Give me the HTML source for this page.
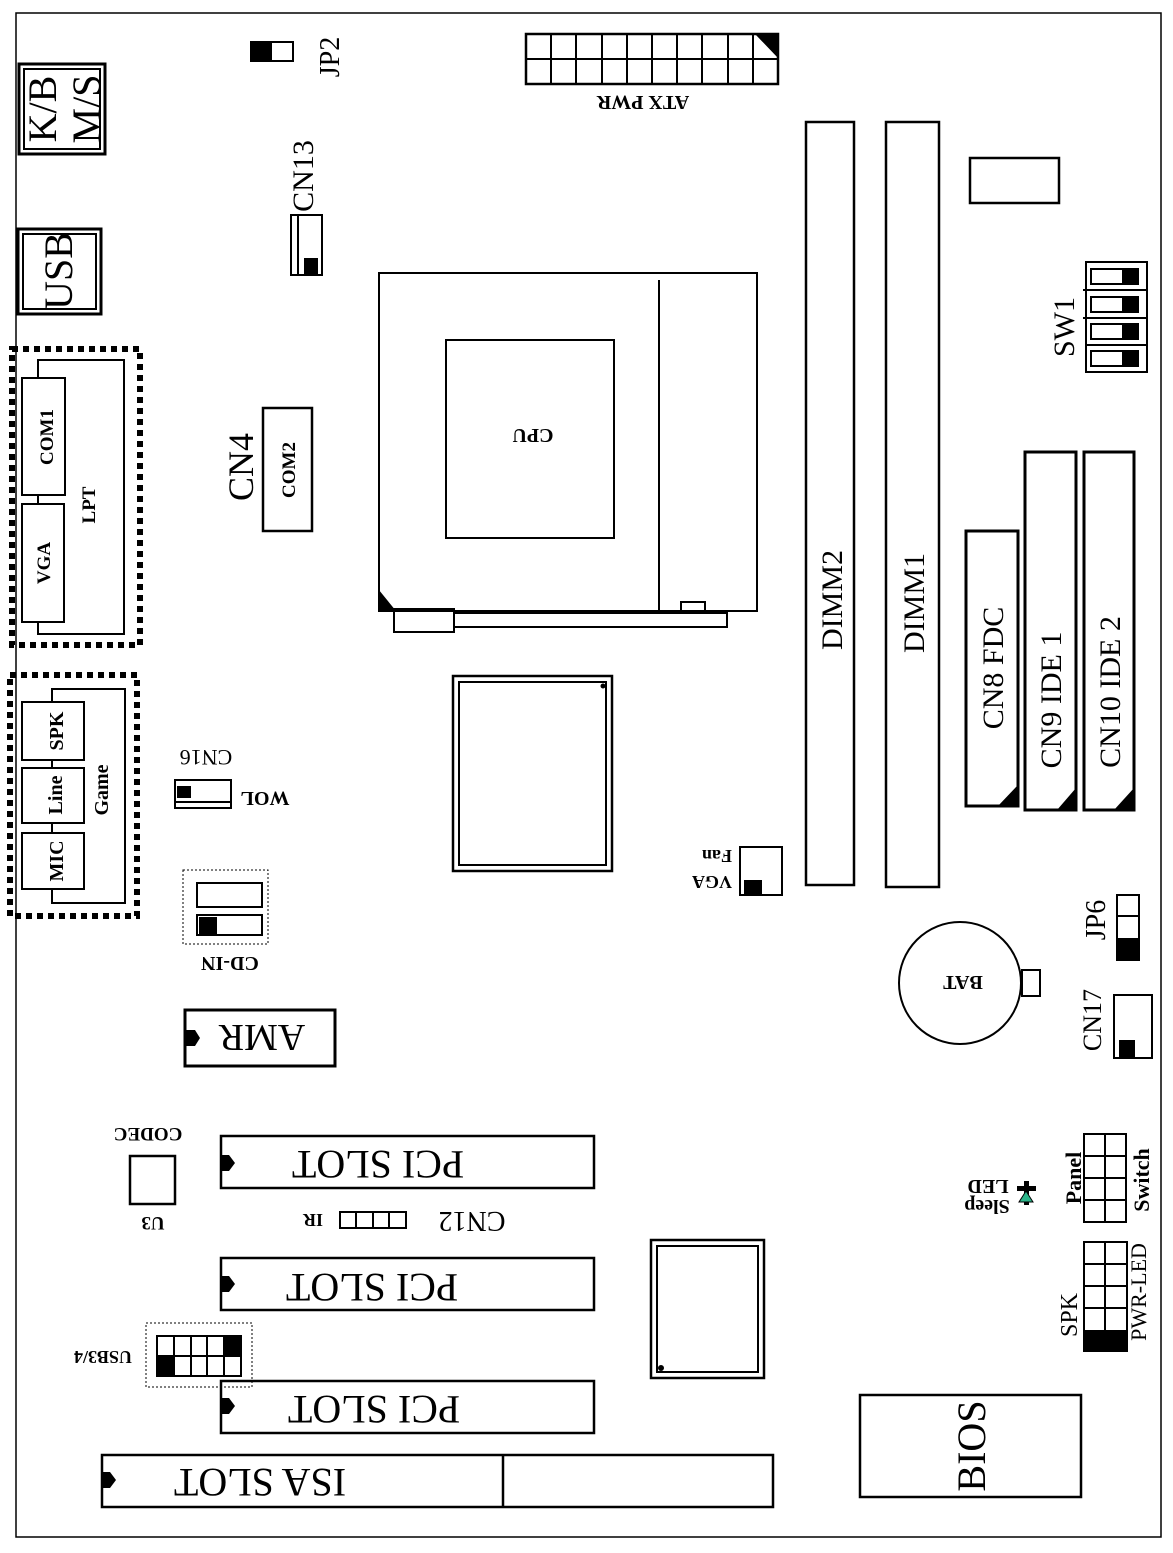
<!DOCTYPE html>
<html><head><meta charset="utf-8"><style>
html,body{margin:0;padding:0;background:#fff;}
svg{display:block;}
svg text{font-family:"Liberation Serif","Times New Roman",serif;fill:#000;}
.b{font-weight:bold;}
</style></head><body>
<svg width="1173" height="1553" viewBox="0 0 1173 1553" xmlns="http://www.w3.org/2000/svg" font-family="Liberation Serif, Times New Roman, serif">
<g fill="none" stroke="#000" stroke-width="2">
<rect x="16" y="13" width="1145" height="1524" stroke-width="1.5"/>
<rect x="19" y="64" width="86" height="90" stroke-width="3"/>
<rect x="24" y="69" width="76" height="80"/>
<rect x="18" y="229" width="83" height="85" stroke-width="3"/>
<rect x="23" y="234" width="73" height="75"/>
<rect x="12" y="349" width="128" height="296" stroke-width="6" stroke-dasharray="6,5"/>
<polyline points="38,378 38,360 124,360 124,634 38,634 38,622"/>
<rect x="22" y="378" width="43" height="117"/>
<rect x="22" y="504" width="42" height="118"/>
<line x1="38" y1="495" x2="38" y2="504"/>
<rect x="263" y="408" width="49" height="123" stroke-width="2.5"/>
<rect x="251" y="42" width="42" height="19"/>
<rect x="291" y="215" width="31" height="60"/>
<line x1="298" y1="215" x2="298" y2="275"/>
<!-- ATX -->
<rect x="526" y="34" width="252" height="50" stroke-width="2.5"/>
<line x1="526" y1="59" x2="778" y2="59"/>
<line x1="551" y1="34" x2="551" y2="84"/>
<line x1="576" y1="34" x2="576" y2="84"/>
<line x1="602" y1="34" x2="602" y2="84"/>
<line x1="627" y1="34" x2="627" y2="84"/>
<line x1="652" y1="34" x2="652" y2="84"/>
<line x1="677" y1="34" x2="677" y2="84"/>
<line x1="702" y1="34" x2="702" y2="84"/>
<line x1="728" y1="34" x2="728" y2="84"/>
<line x1="753" y1="34" x2="753" y2="84"/>
<rect x="379" y="273" width="378" height="338"/>
<line x1="659" y1="280" x2="659" y2="611"/>
<rect x="446" y="340" width="168" height="198"/>
<rect x="394" y="609" width="60" height="23"/>
<rect x="454" y="613" width="273" height="14"/>
<rect x="681" y="602" width="24" height="11"/>
<rect x="453" y="676" width="159" height="195" stroke-width="2.5"/>
<rect x="459" y="682" width="147" height="183"/>
<rect x="806" y="122" width="48" height="763" stroke-width="2.5"/>
<rect x="886" y="122" width="53" height="765" stroke-width="2.5"/>
<rect x="970" y="158" width="89" height="45" stroke-width="2.5"/>
<rect x="1086" y="262" width="61" height="110"/>
<line x1="1083" y1="290" x2="1147" y2="290"/>
<line x1="1083" y1="318" x2="1147" y2="318"/>
<line x1="1086" y1="345" x2="1147" y2="345"/>
<rect x="1091" y="269" width="47" height="15"/>
<rect x="1091" y="297" width="47" height="15"/>
<rect x="1091" y="324" width="47" height="15"/>
<rect x="1091" y="351" width="47" height="15"/>
<rect x="966" y="531" width="52" height="275" stroke-width="3"/>
<rect x="1025" y="452" width="51" height="358" stroke-width="3"/>
<rect x="1084" y="452" width="50" height="358" stroke-width="3"/>
<rect x="1117" y="895" width="22" height="65"/>
<line x1="1117" y1="916" x2="1139" y2="916"/>
<circle cx="960" cy="983" r="61"/>
<rect x="1022" y="970" width="18" height="26"/>
<rect x="1114" y="995" width="38" height="63"/>
<rect x="1084" y="1134" width="42" height="88"/>
<line x1="1105" y1="1134" x2="1105" y2="1222"/>
<line x1="1084" y1="1156" x2="1126" y2="1156"/>
<line x1="1084" y1="1178" x2="1126" y2="1178"/>
<line x1="1084" y1="1200" x2="1126" y2="1200"/>
<rect x="1084" y="1242" width="43" height="109"/>
<line x1="1105" y1="1242" x2="1105" y2="1330"/>
<line x1="1084" y1="1264" x2="1127" y2="1264"/>
<line x1="1084" y1="1286" x2="1127" y2="1286"/>
<line x1="1084" y1="1308" x2="1127" y2="1308"/>
<rect x="860" y="1395" width="221" height="102" stroke-width="2.5"/>
<rect x="651" y="1240" width="113" height="138" stroke-width="2.5"/>
<rect x="657" y="1246" width="101" height="126"/>
<rect x="221" y="1136" width="373" height="52" stroke-width="2.5"/>
<rect x="221" y="1258" width="373" height="52" stroke-width="2.5"/>
<rect x="221" y="1381" width="373" height="52" stroke-width="2.5"/>
<rect x="102" y="1455" width="671" height="52" stroke-width="2.5"/>
<line x1="503" y1="1455" x2="503" y2="1507" stroke-width="2.5"/>
<rect x="130" y="1156" width="45" height="48" stroke-width="2.5"/>
<rect x="340" y="1212" width="66" height="16"/>
<line x1="356" y1="1212" x2="356" y2="1228"/>
<line x1="373" y1="1212" x2="373" y2="1228"/>
<line x1="389" y1="1212" x2="389" y2="1228"/>
<rect x="146" y="1323" width="106" height="64" stroke-width="1" stroke-dasharray="2,2"/>
<rect x="157" y="1336" width="84" height="40"/>
<line x1="157" y1="1356" x2="241" y2="1356"/>
<line x1="174" y1="1336" x2="174" y2="1376"/>
<line x1="191" y1="1336" x2="191" y2="1376"/>
<line x1="207" y1="1336" x2="207" y2="1376"/>
<line x1="224" y1="1336" x2="224" y2="1376"/>
<rect x="185" y="1010" width="150" height="56" stroke-width="3"/>
<rect x="183" y="870" width="85" height="74" stroke-width="1" stroke-dasharray="2,2"/>
<rect x="197" y="883" width="65" height="24"/>
<rect x="197" y="915" width="65" height="20"/>
<rect x="175" y="780" width="56" height="28"/>
<line x1="175" y1="802" x2="231" y2="802"/>
<rect x="740" y="847" width="42" height="48"/>
<rect x="10" y="675" width="127" height="241" stroke-width="6" stroke-dasharray="6,5"/>
<polyline points="52,702 52,689 125,689 125,903 52,903 52,889"/>
<rect x="22" y="702" width="62" height="58"/>
<rect x="22" y="768" width="62" height="55"/>
<rect x="22" y="833" width="62" height="56"/>
<line x1="52" y1="760" x2="52" y2="768"/>
<line x1="52" y1="823" x2="52" y2="833"/>
</g>
<g fill="#000">
<rect x="251" y="42" width="21" height="19"/>
<rect x="304" y="258" width="14" height="16"/>
<polygon points="755,34 778,34 778,58"/>
<polygon points="379,590 379,611 396,611"/>
<rect x="1122" y="269" width="16" height="15"/>
<rect x="1122" y="297" width="16" height="15"/>
<rect x="1122" y="324" width="16" height="15"/>
<rect x="1122" y="351" width="16" height="15"/>
<polygon points="1018,785 1018,806 998,806"/>
<polygon points="1076,788 1076,810 1057,810"/>
<polygon points="1134,788 1134,810 1114,810"/>
<rect x="1117" y="938" width="22" height="22"/>
<rect x="1119" y="1040" width="16" height="18"/>
<rect x="1084" y="1330" width="43" height="21"/>
<rect x="224" y="1336" width="17" height="20"/>
<rect x="157" y="1356" width="17" height="20"/>
<rect x="177" y="786" width="14" height="12"/>
<rect x="199" y="917" width="18" height="17"/>
<rect x="744" y="880" width="18" height="15"/>
<circle cx="603" cy="686" r="2.5"/>
<circle cx="661" cy="1368" r="3"/>
<path d="M185,1030 h10 l5,8 l-5,8 h-10z"/>
<path d="M221,1155 h8 l6,8 l-6,8 h-8z"/>
<path d="M221,1276 h8 l6,8 l-6,8 h-8z"/>
<path d="M221,1398 h8 l6,8 l-6,8 h-8z"/>
<path d="M102,1472 h8 l6,8 l-6,8 h-8z"/>
<rect x="1024" y="1181" width="5" height="24"/>
<rect x="1017" y="1186" width="19" height="5"/>
</g>
<polygon points="1026,1191 1019,1202 1033,1202" fill="#2bb58a" stroke="#000" stroke-width="1"/>
<g>
<text font-family="Liberation Serif, serif" transform="translate(56,109) rotate(-90)" font-size="40" text-anchor="middle">K/B</text>
<text font-family="Liberation Serif, serif" transform="translate(100,109) rotate(-90)" font-size="40" text-anchor="middle">M/S</text>
<text font-family="Liberation Serif, serif" transform="translate(72,271) rotate(-90)" font-size="40" text-anchor="middle">USB</text>
<text font-family="Liberation Serif, serif" transform="translate(339,57) rotate(-90)" font-size="28" text-anchor="middle">JP2</text>
<text font-family="Liberation Serif, serif" transform="translate(313,176) rotate(-90)" font-size="30" text-anchor="middle">CN13</text>
<text font-family="Liberation Serif, serif" class="b" transform="translate(53,437) rotate(-90)" font-size="19" text-anchor="middle">COM1</text>
<text font-family="Liberation Serif, serif" class="b" transform="translate(50,563) rotate(-90)" font-size="19" text-anchor="middle">VGA</text>
<text font-family="Liberation Serif, serif" class="b" transform="translate(95,505) rotate(-90)" font-size="19" text-anchor="middle">LPT</text>
<text font-family="Liberation Serif, serif" transform="translate(253,467) rotate(-90)" font-size="36" text-anchor="middle">CN4</text>
<text font-family="Liberation Serif, serif" class="b" transform="translate(295,470) rotate(-90)" font-size="19" text-anchor="middle">COM2</text>
<text font-family="Liberation Serif, serif" transform="translate(842,600) rotate(-90)" font-size="30" text-anchor="middle">DIMM2</text>
<text font-family="Liberation Serif, serif" transform="translate(924,603) rotate(-90)" font-size="30" text-anchor="middle">DIMM1</text>
<text font-family="Liberation Serif, serif" transform="translate(1074,327) rotate(-90)" font-size="30" text-anchor="middle">SW1</text>
<text font-family="Liberation Serif, serif" transform="translate(1003,668) rotate(-90)" font-size="30" text-anchor="middle">CN8 FDC</text>
<text font-family="Liberation Serif, serif" transform="translate(1061,700) rotate(-90)" font-size="30" text-anchor="middle">CN9 IDE 1</text>
<text font-family="Liberation Serif, serif" transform="translate(1120,692) rotate(-90)" font-size="30" text-anchor="middle">CN10 IDE 2</text>
<text font-family="Liberation Serif, serif" transform="translate(1105,920) rotate(-90)" font-size="28" text-anchor="middle">JP6</text>
<text font-family="Liberation Serif, serif" transform="translate(1101,1020) rotate(-90)" font-size="26" text-anchor="middle">CN17</text>
<text font-family="Liberation Serif, serif" class="b" transform="translate(1081,1178) rotate(-90)" font-size="22" text-anchor="middle">Panel</text>
<text font-family="Liberation Serif, serif" class="b" transform="translate(1149,1180) rotate(-90)" font-size="22" text-anchor="middle">Switch</text>
<text font-family="Liberation Serif, serif" transform="translate(1077,1315) rotate(-90)" font-size="24" text-anchor="middle">SPK</text>
<text font-family="Liberation Serif, serif" transform="translate(1146,1292) rotate(-90)" font-size="22" text-anchor="middle">PWR-LED</text>
<text font-family="Liberation Serif, serif" transform="translate(985,1446) rotate(-90)" font-size="40" text-anchor="middle">BIOS</text>
<text font-family="Liberation Serif, serif" class="b" transform="translate(63,731) rotate(-90)" font-size="20" text-anchor="middle">SPK</text>
<text font-family="Liberation Serif, serif" class="b" transform="translate(62,795) rotate(-90)" font-size="20" text-anchor="middle">Line</text>
<text font-family="Liberation Serif, serif" class="b" transform="translate(63,861) rotate(-90)" font-size="20" text-anchor="middle">MIC</text>
<text font-family="Liberation Serif, serif" class="b" transform="translate(108,790) rotate(-90)" font-size="20" text-anchor="middle">Game</text>
</g>
<g>
<text font-family="Liberation Serif, serif" class="b" transform="translate(643,96) rotate(180)" font-size="20" text-anchor="middle">ATX PWR</text>
<text font-family="Liberation Serif, serif" class="b" transform="translate(533,429) rotate(180)" font-size="20" text-anchor="middle">CPU</text>
<text font-family="Liberation Serif, serif" class="b" transform="translate(963,976) rotate(180)" font-size="20" text-anchor="middle">BAT</text>
<text font-family="Liberation Serif, serif" class="b" transform="translate(988,1180) rotate(180)" font-size="20" text-anchor="middle">LED</text>
<text font-family="Liberation Serif, serif" class="b" transform="translate(987,1200) rotate(180)" font-size="20" text-anchor="middle">Sleep</text>
<text font-family="Liberation Serif, serif" transform="translate(378,1151) rotate(180)" font-size="40" text-anchor="middle">PCI SLOT</text>
<text font-family="Liberation Serif, serif" transform="translate(372,1274) rotate(180)" font-size="40" text-anchor="middle">PCI SLOT</text>
<text font-family="Liberation Serif, serif" transform="translate(374,1396) rotate(180)" font-size="40" text-anchor="middle">PCI SLOT</text>
<text font-family="Liberation Serif, serif" transform="translate(260,1469) rotate(180)" font-size="40" text-anchor="middle">ISA SLOT</text>
<text font-family="Liberation Serif, serif" class="b" transform="translate(148,1128) rotate(180)" font-size="19" text-anchor="middle">CODEC</text>
<text font-family="Liberation Serif, serif" class="b" transform="translate(153,1217) rotate(180)" font-size="19" text-anchor="middle">U3</text>
<text font-family="Liberation Serif, serif" transform="translate(472,1212) rotate(180)" font-size="28" text-anchor="middle">CN12</text>
<text font-family="Liberation Serif, serif" class="b" transform="translate(313,1214) rotate(180)" font-size="18" text-anchor="middle">IR</text>
<text font-family="Liberation Serif, serif" class="b" transform="translate(103,1351) rotate(180)" font-size="18" text-anchor="middle">USB3/4</text>
<text font-family="Liberation Serif, serif" transform="translate(262,1025) rotate(180)" font-size="38" text-anchor="middle">AMR</text>
<text font-family="Liberation Serif, serif" class="b" transform="translate(230,957) rotate(180)" font-size="20" text-anchor="middle">CD-IN</text>
<text font-family="Liberation Serif, serif" transform="translate(206,750) rotate(180)" font-size="22" text-anchor="middle">CN16</text>
<text font-family="Liberation Serif, serif" class="b" transform="translate(265,792) rotate(180)" font-size="20" text-anchor="middle">WOL</text>
<text font-family="Liberation Serif, serif" class="b" transform="translate(712,876) rotate(180)" font-size="18" text-anchor="middle">VGA</text>
<text font-family="Liberation Serif, serif" class="b" transform="translate(717,850) rotate(180)" font-size="18" text-anchor="middle">Fan</text>
</g>
</svg>
</body></html>
